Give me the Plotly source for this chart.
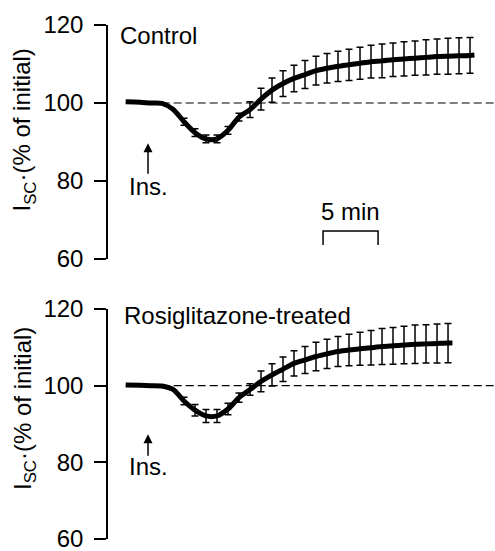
import plotly.graph_objects as go

# ---------------- data ----------------
# time in minutes (one error bar per minute)
ctrl_t = [-0.3, 1, 2, 3, 4, 5, 6, 7, 8, 9, 10, 11, 12, 13, 14, 15, 16, 17, 18, 19,
          20, 21, 22, 23, 24, 25, 26, 27, 28, 29, 30, 31, 31.4]
ctrl_v = [100.3, 100.2, 100.0, 99.9, 98.4, 95.2, 92.4, 90.8, 90.8, 93.0, 96.4,
          98.3, 101.0, 103.3, 105.0, 106.3, 107.3, 108.3, 108.9, 109.4, 109.8,
          110.2, 110.6, 110.8, 111.1, 111.3, 111.5, 111.7, 111.9, 112.0, 112.1,
          112.2, 112.3]
ctrl_err = [None, None, None, None, None, 0.9, 1.0, 1.0, 1.0, 1.0, 1.0, 2.0, 2.8,
            3.1, 3.3, 3.4, 3.6, 3.7, 3.8, 3.9, 4.0, 4.1, 4.2, 4.3, 4.3, 4.4, 4.4,
            4.5, 4.5, 4.6, 4.6, 4.6, None]

rosi_t = [-0.3, 1, 2, 3, 4, 5, 6, 7, 8, 9, 10, 11, 12, 13, 14, 15, 16, 17, 18, 19,
          20, 21, 22, 23, 24, 25, 26, 27, 28, 29, 29.4]
rosi_v = [100.2, 100.1, 100.0, 99.9, 99.0, 96.0, 93.6, 92.1, 92.1, 93.9, 96.9,
          99.0, 101.1, 102.8, 104.3, 105.8, 106.7, 107.6, 108.3, 108.9, 109.3,
          109.6, 109.9, 110.2, 110.4, 110.6, 110.8, 110.9, 111.0, 111.1, 111.1]
rosi_err = [None, None, None, None, None, 1.0, 1.5, 1.7, 1.7, 1.5, 1.2, 1.5, 2.7,
            2.9, 3.2, 3.3, 3.5, 3.7, 3.8, 3.9, 4.1, 4.3, 4.5, 4.7, 4.8, 4.9, 5.0,
            5.0, 5.1, 5.1, None]

panel_labels = ["Control", "Rosiglitazone-treated"]
y_ticks = [60, 80, 100, 120]
baseline = 100
insulin_t = 1.73
scale_bar_start = 17.64
scale_bar_len = 5  # min

FONT = "Liberation Sans, Arial, Helvetica, sans-serif"
X_RANGE = [-1.909, 33.27]

fig = go.Figure()


def add_panel(t, v, err, xa, ya):
    fig.add_trace(go.Scatter(
        x=t, y=v, mode="lines", xaxis=xa, yaxis=ya,
        line=dict(color="black", width=5, shape="spline", smoothing=0.8),
        showlegend=False, hoverinfo="skip"))
    idx = [i for i, e in enumerate(err) if e is not None]
    fig.add_trace(go.Scatter(
        x=[t[i] for i in idx], y=[v[i] for i in idx], mode="markers",
        xaxis=xa, yaxis=ya,
        marker=dict(size=1, color="black"),
        error_y=dict(type="data", array=[err[i] for i in idx], visible=True,
                     color="black", thickness=1.5, width=3.5),
        showlegend=False, hoverinfo="skip"))


add_panel(ctrl_t, ctrl_v, ctrl_err, "x", "y")
add_panel(rosi_t, rosi_v, rosi_err, "x2", "y2")

yaxis_common = dict(range=[60, 120], tickvals=y_ticks, ticks="outside", ticklen=12,
                    tickwidth=1.5, tickcolor="black", showline=True, linecolor="black",
                    linewidth=1.5, showgrid=False, zeroline=False, automargin=False,
                    tickfont=dict(family=FONT, size=24, color="black"),
                    ticklabelstandoff=6, ticklabeloverflow="allow")
xaxis_common = dict(range=X_RANGE, visible=False, showgrid=False, zeroline=False,
                    automargin=False)

fig.update_layout(
    width=495, height=551,
    margin=dict(l=108, r=0, t=25, b=12, autoexpand=False),
    plot_bgcolor="white", paper_bgcolor="white",
    font=dict(family=FONT, size=24, color="black"),
    xaxis=dict(**xaxis_common, anchor="y"),
    xaxis2=dict(**xaxis_common, anchor="y2"),
    yaxis=dict(**yaxis_common, domain=[0.5447, 1.0], anchor="x"),
    yaxis2=dict(**yaxis_common, domain=[0.0, 0.4475], anchor="x2"),
)

shapes = []
for xr, yr in (("x", "y"), ("x2", "y2")):
    shapes.append(dict(type="line", xref=xr, yref=yr, x0=-0.3, x1=X_RANGE[1],
                       y0=baseline, y1=baseline, layer="below",
                       line=dict(color="black", width=1.2, dash="8px,4px")))
# 5-min scale bar in top panel
x0s = scale_bar_start
x1s = scale_bar_start + scale_bar_len
shapes.append(dict(type="path", xref="x", yref="y",
                   path=f"M {x0s},63.6 L {x0s},67.2 L {x1s},67.2 L {x1s},63.6",
                   line=dict(color="black", width=1.5)))
fig.update_layout(shapes=shapes)

title_text = "I<sub>SC</sub>·(% of initial)"
ann = [
    dict(text=panel_labels[0], x=-1.0, y=117.4, xref="x", yref="y",
         xanchor="left", yanchor="middle", showarrow=False),
    dict(text=panel_labels[1], x=-0.66, y=118.3, xref="x2", yref="y2",
         xanchor="left", yanchor="middle", showarrow=False),
    dict(text="Ins.", x=1.8, y=78.6, xref="x", yref="y",
         xanchor="center", yanchor="middle", showarrow=False),
    dict(text="Ins.", x=1.8, y=78.8, xref="x2", yref="y2",
         xanchor="center", yanchor="middle", showarrow=False),
    dict(text="", x=insulin_t, y=89.7, ax=insulin_t, ay=81.5, xref="x", yref="y",
         axref="x", ayref="y", showarrow=True, arrowhead=2, arrowsize=1.2,
         arrowwidth=1.5, arrowcolor="black"),
    dict(text="", x=insulin_t, y=87.3, ax=insulin_t, ay=81.3, xref="x2", yref="y2",
         axref="x2", ayref="y2", showarrow=True, arrowhead=2, arrowsize=1.2,
         arrowwidth=1.5, arrowcolor="black"),
    dict(text="5 min", x=x0s + scale_bar_len / 2, y=72.1, xref="x", yref="y",
         xanchor="center", yanchor="middle", showarrow=False),
    dict(text=title_text, x=-0.217, y=0.7947, xref="paper", yref="paper",
         textangle=-90, xanchor="center", yanchor="middle", showarrow=False),
    dict(text=title_text, x=-0.217, y=0.2529, xref="paper", yref="paper",
         textangle=-90, xanchor="center", yanchor="middle", showarrow=False),
]
fig.update_layout(annotations=ann)

fig.write_html("out.html",
               config={"displayModeBar": False},
               post_script="document.body.style.margin='0';"
                           "document.body.style.overflow='hidden';")
